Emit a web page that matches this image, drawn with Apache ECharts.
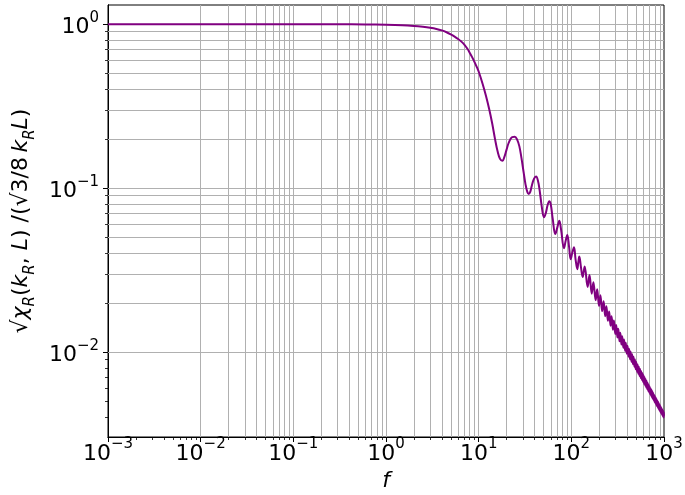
<!DOCTYPE html>
<html><head><meta charset="utf-8">
<script src="https://cdn.jsdelivr.net/npm/echarts@6/dist/echarts.min.js"></script>
<style>html,body{margin:0;padding:0;background:#fff}#c{width:685px;height:495px}</style>
</head><body><div id="c"></div>
<script>
// ---- data ----
const freq = [
  0.001, 0.01, 0.1, 0.3, 0.6, 1.0, 1.5, 2.0, 2.5, 3.0, 3.5, 4.0, 4.5, 5.0, 5.5, 6.0, 6.5, 7.0, 7.5, 8.0, 8.5, 9.0, 9.5,
  10, 11, 12, 13, 14, 15, 16, 17, 18, 19, 20, 21, 22, 23, 24.5, 26, 27.5, 29, 30.5, 32, 33.5, 34.7, 36, 37.5, 39.5,
  41.6, 43.5, 45.5, 48, 50.7, 53, 55.5, 57.8, 60, 63, 67.1, 70.5, 74.2, 77.5, 83.3, 87, 90.5, 94.5, 98.4, 102.5,
  106.9, 111, 116, 119, 121.9, 127, 132.6, 136, 139.4,
  150, 157, 166, 173, 183, 190, 199, 206, 215, 223, 232, 239, 248, 256, 265, 272, 281, 288, 298, 305,
  314, 321, 331, 338, 347, 354, 364, 371, 380, 387, 396, 404, 413, 420, 429, 436, 446, 453, 462, 469,
  479, 486, 495, 502, 512, 519, 528, 535, 544, 552, 561, 568, 577, 585, 594, 601, 610, 617, 627, 634,
  643, 650, 660, 667, 676, 683, 692, 700, 709, 716, 725, 733, 742, 749, 758, 766, 775, 782, 791, 798,
  808, 815, 824, 831, 841, 848, 857, 864, 873, 881, 890, 897, 906, 914, 923, 930, 939, 946, 956, 963,
  972, 979, 989, 996, 1000
];
const response = [
  1.0, 1.0, 1.0, 0.999, 0.997, 0.993, 0.986, 0.976, 0.964, 0.951, 0.936, 0.917, 0.894, 0.868, 0.841, 0.813, 0.784, 0.752, 0.713, 0.671, 0.63, 0.59, 0.552,
  0.515, 0.435, 0.365, 0.303, 0.248, 0.200, 0.168, 0.151, 0.147, 0.156, 0.172, 0.188, 0.199, 0.205, 0.206, 0.198, 0.180, 0.152, 0.126, 0.106, 0.095, 0.0923, 0.095, 0.104, 0.114,
  0.1177, 0.112, 0.097, 0.077, 0.0666, 0.0705, 0.079, 0.0833, 0.0795, 0.065, 0.0526, 0.0575, 0.0634, 0.056, 0.0431, 0.048, 0.0519, 0.044, 0.0369, 0.0405,
  0.0437, 0.037, 0.0321, 0.0355, 0.0383, 0.0330, 0.0287, 0.031, 0.0333,
  0.02502, 0.02952, 0.02276, 0.02670, 0.02077, 0.02419, 0.01916, 0.02221, 0.01781, 0.02046, 0.01657, 0.01904, 0.01555, 0.01769, 0.01452, 0.01657, 0.01370, 0.01558, 0.01291, 0.01465,
  0.01229, 0.01389, 0.01165, 0.01314, 0.01113, 0.01253, 0.01063, 0.01194, 0.01020, 0.01142, 0.00980, 0.01093, 0.00941, 0.01050, 0.00907, 0.01011, 0.00873, 0.00971, 0.00844, 0.00938,
  0.00815, 0.00904, 0.00786, 0.00871, 0.00761, 0.00841, 0.00738, 0.00815, 0.00717, 0.00789, 0.00696, 0.00766, 0.00677, 0.00744, 0.00659, 0.00723, 0.00641, 0.00704, 0.00625, 0.00684,
  0.00609, 0.00667, 0.00595, 0.00650, 0.00580, 0.00634, 0.00567, 0.00618, 0.00554, 0.00603, 0.00542, 0.00590, 0.00529, 0.00577, 0.00519, 0.00564, 0.00508, 0.00551, 0.00497, 0.00540,
  0.00487, 0.00529, 0.00477, 0.00518, 0.00468, 0.00507, 0.00460, 0.00498, 0.00451, 0.00489, 0.00443, 0.00479, 0.00436, 0.00470, 0.00427, 0.00461, 0.00421, 0.00454, 0.00413, 0.00446,
  0.00406, 0.00439, 0.00400, 0.00431, 0.0041
];
const xMajorTicks = [0.001, 0.01, 0.1, 1, 10, 100, 1000];
const yMajorTicks = [0.01, 0.1, 1];
const xDecades = [0.001, 0.01, 0.1, 1, 10, 100];
const yDecades = [0.001, 0.01, 0.1];
const multipliers = [2, 3, 4, 5, 6, 7, 8, 9];
const xRange = [0.001, 1000];
const yRange = [0.00304, 1.31];

// ---- derived helpers ----
const xMinorTicks = [];
xDecades.forEach(d => multipliers.forEach(m => xMinorTicks.push(+(m * d).toPrecision(6))));
const yMinorTicks = [];
yDecades.forEach(d => multipliers.forEach(m => { const v = +(m * d).toPrecision(6); if (v > yRange[0] && v < yRange[1]) yMinorTicks.push(v); }));
const xGrid = xMajorTicks.concat(xMinorTicks).filter(v => v > xRange[0] && v < xRange[1]);
const yGrid = yMajorTicks.concat(yMinorTicks).filter(v => v > yRange[0] && v < yRange[1]);

const FONT = 'DejaVu Sans';
function powLabel(v) {
  const e = Math.round(Math.log10(v));
  if (Math.abs(v / Math.pow(10, e) - 1) > 1e-6) return '';
  const s = (e < 0 ? '\u2212' : '') + Math.abs(e);
  return '{b|10}{s|' + s + '}';
}
const tickRich = {
  b: { fontSize: 22, fontFamily: FONT, color: '#000', lineHeight: 28, verticalAlign: 'bottom' },
  s: { fontSize: 15, fontFamily: FONT, color: '#000', lineHeight: 28, verticalAlign: 'top' }
};
const nameRich = {
  n: { fontSize: 22, fontFamily: FONT, color: '#000', lineHeight: 28, verticalAlign: 'top' },
  i: { fontSize: 22, fontFamily: FONT, fontStyle: 'italic', color: '#000', lineHeight: 28, verticalAlign: 'top' },
  s: { fontSize: 15, fontFamily: FONT, fontStyle: 'italic', color: '#000', lineHeight: 28, verticalAlign: 'bottom' }
};

function baseAxis(range) {
  return {
    type: 'log', logBase: 10, min: range[0], max: range[1],
    axisLine: { show: true, onZero: false, lineStyle: { color: '#000', width: 1 } },
    splitLine: { show: false }, minorTick: { show: false }, minorSplitLine: { show: false }
  };
}

const chart = echarts.init(document.getElementById('c'), null, { renderer: 'canvas' });
chart.setOption({
  animation: false,
  backgroundColor: '#fff',
  grid: { left: 108, right: 21, top: 5, bottom: 58, containLabel: false, outerBoundsMode: 'none',
          show: true, borderColor: '#000', borderWidth: 1, backgroundColor: 'transparent' },
  xAxis: [
    Object.assign(baseAxis(xRange), {
      position: 'bottom',
      name: 'f', nameLocation: 'middle', nameGap: 30,
      nameTextStyle: { fontSize: 22, fontFamily: FONT, fontStyle: 'italic', color: '#000' },
      axisTick: { show: true, inside: false, length: 5, lineStyle: { color: '#000', width: 1 }, customValues: xMajorTicks },
      axisLabel: { show: true, margin: 0, formatter: powLabel, rich: tickRich, customValues: xMajorTicks, showMinLabel: true, showMaxLabel: true }
    }),
    Object.assign(baseAxis(xRange), {
      position: 'bottom',
      axisTick: { show: true, inside: false, length: 3, lineStyle: { color: '#000', width: 0.8 }, customValues: xMinorTicks },
      axisLabel: { show: false }
    })
  ],
  yAxis: [
    Object.assign(baseAxis(yRange), {
      position: 'left',
      name: '{n|\u221A}{i|\u03C7}{s|R}{n|(}{i|k}{s|R}{n|, }{i|L}{n|) /(\u221A3/8\u2009}{i|k}{s|R}{i|L}{n|)}',
      nameLocation: 'middle', nameGap: 66, nameRotate: 90,
      nameTextStyle: { rich: nameRich },
      axisTick: { show: true, inside: false, length: 5, lineStyle: { color: '#000', width: 1 }, customValues: yMajorTicks },
      axisLabel: { show: true, margin: 9, formatter: powLabel, rich: tickRich, customValues: yMajorTicks }
    }),
    Object.assign(baseAxis(yRange), {
      position: 'left',
      axisTick: { show: true, inside: false, length: 3, lineStyle: { color: '#000', width: 0.8 }, customValues: yMinorTicks },
      axisLabel: { show: false }
    })
  ],
  series: [{
    type: 'line',
    xAxisIndex: 0, yAxisIndex: 0,
    data: freq.map((f, i) => [f, response[i]]),
    showSymbol: false, symbol: 'none',
    smooth: 0.4,
    lineStyle: { color: '#800080', width: 2 },
    itemStyle: { color: '#800080' },
    z: 3,
    markLine: {
      silent: true, z: 1, animation: false,
      symbol: ['none', 'none'],
      label: { show: false },
      lineStyle: { type: 'solid', color: '#b0b0b0', width: 1 },
      emphasis: { disabled: true },
      data: xGrid.map(v => ({ xAxis: v })).concat(yGrid.map(v => ({ yAxis: v })))
    }
  }]
});
</script>
</body></html>
